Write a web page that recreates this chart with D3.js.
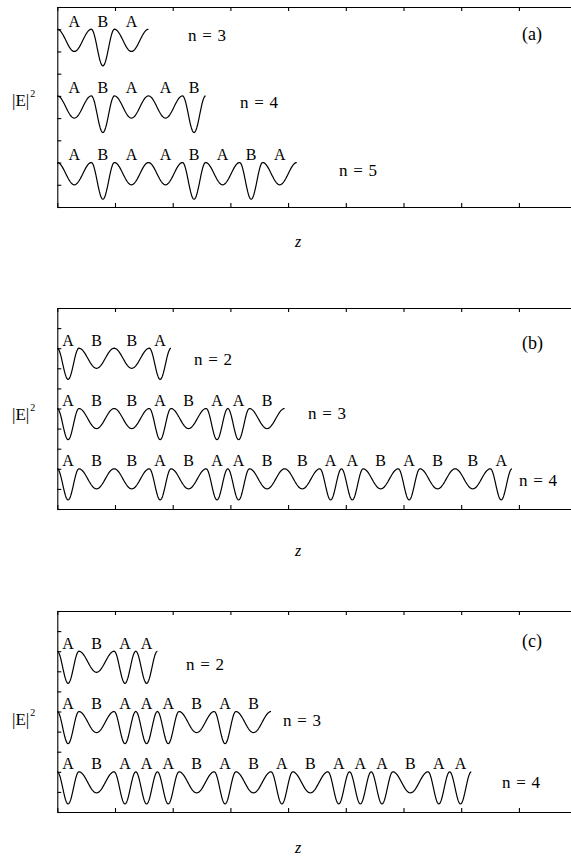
<!DOCTYPE html>
<html>
<head>
<meta charset="utf-8">
<script src="https://cdn.jsdelivr.net/npm/d3@7/dist/d3.min.js"></script>
<style>
  html, body { margin: 0; padding: 0; background: #fff; }
  svg { display: block; }
  text { font-family: "Liberation Serif", Tinos, "Times New Roman", Times, serif; fill: #000; }
</style>
</head>
<body>
<svg id="chart" width="571" height="857"></svg>
<script>
// ---------------- data ----------------
// layer sequences for each panel (rows top to bottom)
const seqFibonacci   = ["ABA", "ABAAB", "ABAABABA"];
const seqThueMorse   = ["ABBA", "ABBABAAB", "ABBABAABBAABABBA"];
const seqPeriodDoubl = ["ABAA", "ABAAABAB", "ABAAABABABAAABAA"];
// generation orders shown as "n = .."
const ordersA = [3, 4, 5];
const ordersB = [2, 3, 4];
const ordersC = [2, 3, 4];
// layer thickness (z units) per layer type
const widthA = { A: 0.59, B: 0.40 };
const widthB = { A: 0.375, B: 0.61 };
const widthC = { A: 0.375, B: 0.61 };
// well depth of |E|^2 (y units) per layer type
const depthA = { A: 1.0, B: 1.65 };
const depthB = { A: 1.55, B: 1.0 };
const depthC = { A: 1.6, B: 1.05 };
// level of the maxima of each row (y units)
const rowLevels = [8, 5, 2];
// axis ticks
const zTicks = [0, 1, 2, 3, 4, 5, 6, 7, 8, 9];
const yTicksA = [0, 1, 2, 3, 4, 5, 6, 7, 8, 9];
const yTicksB = [0, 1, 2, 3, 4, 5, 6, 7, 8, 9, 10];
const panelTags = ["(a)", "(b)", "(c)"];

// ---------------- layout ----------------
const panels = [
  { tag: panelTags[0], seq: seqFibonacci,   orders: ordersA, width: widthA, depth: depthA, yTicks: yTicksA,
    top: 7, bottom: 207, yMax: 9,
    nPos: [[188, 41], [240, 108], [339, 176]], tagY: 40, eY: 106, zY: 247 },
  { tag: panelTags[1], seq: seqThueMorse,   orders: ordersB, width: widthB, depth: depthB, yTicks: yTicksB,
    top: 308, bottom: 509, yMax: 10,
    nPos: [[194, 365], [308, 419], [519, 486]], tagY: 349, eY: 420, zY: 556 },
  { tag: panelTags[2], seq: seqPeriodDoubl, orders: ordersC, width: widthC, depth: depthC, yTicks: yTicksB,
    top: 611, bottom: 812, yMax: 10,
    nPos: [[186, 670], [283, 726], [502, 788]], tagY: 647, eY: 725, zY: 853 }
];

const svg = d3.select("#chart");
const x = d3.scaleLinear().domain([0, 9]).range([57.3, 57.3 + 9 * 57.7]);
const FS = 16;

panels.forEach(p => {
  const y = d3.scaleLinear().domain([0, p.yMax]).range([p.bottom, p.top]);
  const g = svg.append("g");

  // frame / axes
  const axTop = d3.axisTop(x).tickValues(zTicks).tickSize(-4).tickSizeOuter(0).tickFormat("");
  const axBot = d3.axisBottom(x).tickValues(zTicks).tickSize(-4).tickSizeOuter(0).tickFormat("");
  const axL = d3.axisLeft(y).tickValues(p.yTicks).tickSize(-4).tickSizeOuter(0).tickFormat("");
  const axR = d3.axisRight(y).tickValues(p.yTicks).tickSize(-4).tickSizeOuter(0).tickFormat("");
  g.append("g").attr("transform", `translate(0,${p.top})`).call(axTop);
  g.append("g").attr("transform", `translate(0,${p.bottom})`).call(axBot);
  g.append("g").attr("transform", `translate(${x(0)},0)`).call(axL);
  g.append("g").attr("transform", `translate(${x(9)},0)`).call(axR);
  g.selectAll(".domain, .tick line").attr("stroke", "#000").attr("stroke-width", 1.1);

  const line = d3.line().x(d => x(d[0])).y(d => y(d[1]));

  p.seq.forEach((s, r) => {
    const level = rowLevels[r];
    let z0 = 0;
    const pts = [];
    const labels = [];
    s.split("").forEach((t, i) => {
      const w = p.width[t], dep = p.depth[t];
      const N = 40;
      for (let k = (i === 0 ? 0 : 1); k <= N; k++) {
        const f = k / N;
        pts.push([z0 + w * f, level - dep * (1 - Math.cos(2 * Math.PI * f)) / 2]);
      }
      labels.push({ t, z: z0 + w / 2 });
      z0 += w;
    });
    g.append("path").datum(pts).attr("d", line)
      .attr("fill", "none").attr("stroke", "#000").attr("stroke-width", 1.2);

    g.selectAll(null).data(labels).enter().append("text")
      .attr("x", d => x(d.z)).attr("y", y(level) - 2.5)
      .attr("text-anchor", "middle").attr("font-size", FS)
      .text(d => d.t);

    g.append("text").attr("x", p.nPos[r][0]).attr("y", p.nPos[r][1])
      .attr("font-size", 17).attr("word-spacing", 1.5)
      .text(`n = ${p.orders[r]}`);
  });

  g.append("text").attr("x", 522).attr("y", p.tagY).attr("font-size", 18).text(p.tag);

  const e = g.append("text").attr("x", 12).attr("y", p.eY).attr("font-size", 17);
  e.append("tspan").text("|E|");
  e.append("tspan").attr("font-size", 10).attr("dy", -9).attr("dx", 1).text("2");

  g.append("text").attr("x", 298).attr("y", p.zY).attr("text-anchor", "middle")
    .attr("font-size", FS).attr("font-style", "italic").text("z");
});
</script>
</body>
</html>
